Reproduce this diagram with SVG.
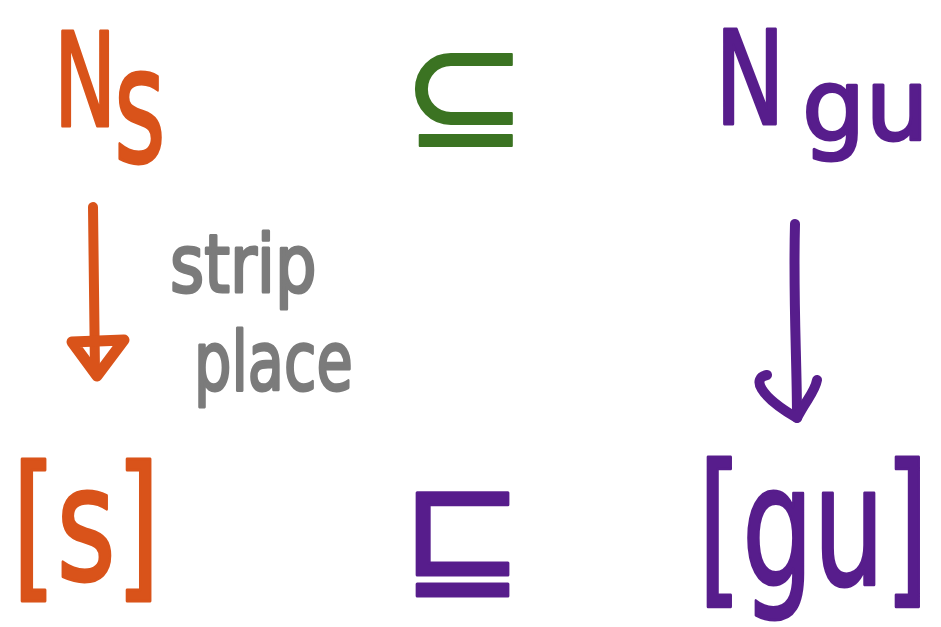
<svg xmlns="http://www.w3.org/2000/svg" width="941" height="627" viewBox="0 0 941 627">
<style>
text{font-family:"DejaVu Sans",sans-serif;stroke-linejoin:round;}
.o{fill:#d9531a;stroke:#d9531a;stroke-width:3;}
.g{fill:#3b7322;stroke:#3b7322;stroke-width:2;}
.p{fill:#571d8c;stroke:#571d8c;stroke-width:3;}
.gr{fill:#7b7b7b;stroke:#7b7b7b;stroke-width:3;}
.ln{fill:none;stroke-linecap:round;stroke-linejoin:round;}
</style>
<rect width="941" height="627" fill="#ffffff"/>
<g id="node-Ns">
<text class="o" font-size="130" transform="translate(54,126) scale(0.64,1)">N</text>
<text class="o" font-size="160" transform="translate(114,162) scale(0.62,1)">s</text>
</g>
<g id="node-subseteq">
<text class="g" font-size="150" x="402" y="146">⊆</text>
</g>
<g id="node-Ngu">
<text class="p" font-size="130" transform="translate(715,124) scale(0.72,1)">N</text>
<text class="p" font-size="100" x="802" y="140">gu</text>
</g>
<g id="node-strip">
<text class="gr" font-size="80" transform="translate(170,292) scale(0.82,1)">strip</text>
<text class="gr" font-size="82" transform="translate(194,390) scale(0.72,1)">place</text>
</g>
<g id="node-s-bracket">
<text class="o" font-size="158" transform="translate(12,580) scale(0.72,1)">[s]</text>
</g>
<g id="node-sqsubseteq">
<text class="p" font-size="145" x="402" y="584">⊑</text>
</g>
<g id="node-gu-bracket">
<text class="p" font-size="168" transform="translate(698,585) scale(0.67,1)">[gu]</text>
</g>
<g id="connectors">
<path class="ln" d="M93,207 L95,372" stroke="#d9531a" stroke-width="10"/>
<path class="ln" d="M72,342 L124,340 L97,376 Z" stroke="#d9531a" stroke-width="11" fill="#d9531a" fill-opacity="0.35"/>
<path class="ln" d="M795,224 C793,300 797,360 797,418" stroke="#571d8c" stroke-width="10"/>
<path class="ln" d="M767,375 C752,378 758,395 797,418 C806,400 815,392 817,380" stroke="#571d8c" stroke-width="10"/>
</g>
</svg>
